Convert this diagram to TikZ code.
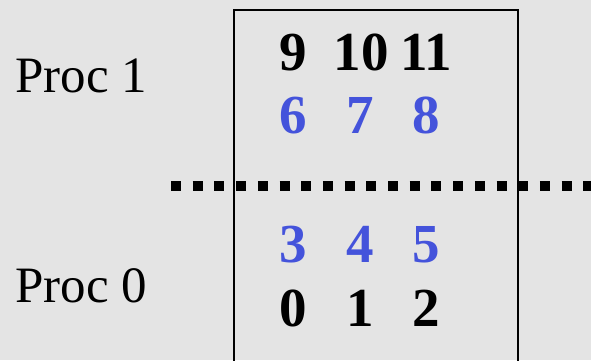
\documentclass[tikz,border=0pt]{standalone}
\usepackage{fontspec}
\setmainfont{Liberation Serif}
\definecolor{bgc}{HTML}{E4E4E4}
\definecolor{numblue}{HTML}{4453DB}
\begin{document}
\begin{tikzpicture}[x=1pt,y=-1pt,
  lbl/.style={inner sep=0pt, anchor=base west, font=\fontsize{51}{51}\selectfont},
  num/.style={inner sep=0pt, anchor=base, font=\fontsize{55}{55}\selectfont\bfseries},
  blk/.style={num, text=black},
  blu/.style={num, text=numblue}]
\fill[bgc] (0,0) rectangle (591,360);
\useasboundingbox (0,0) rectangle (591,360);
\clip (0,0) rectangle (591,360);
\draw[line width=1.4pt] (234,370) -- (234,10) -- (518,10) -- (518,370);
\draw[line width=10pt, dash pattern=on 10pt off 11.7pt] (171,186) -- (620,186);
\node[lbl] (p1) at (15,92) {Proc 1};
\node[lbl] (p0) at (15,302) {Proc 0};
\node[blk] (n9) at (293,70) {9};
\node[blk] (n10) at (361,70) {10};
\node[blk] (n11) at (426,70) {11};
\node[blu] (n6) at (293,133) {6};
\node[blu] (n7) at (360,133) {7};
\node[blu] (n8) at (426,133) {8};
\node[blu] (n3) at (293,262) {3};
\node[blu] (n4) at (360,262) {4};
\node[blu] (n5) at (426,262) {5};
\node[blk] (n0) at (293,326) {0};
\node[blk] (n1) at (360,326) {1};
\node[blk] (n2) at (426,326) {2};
\end{tikzpicture}
\end{document}
